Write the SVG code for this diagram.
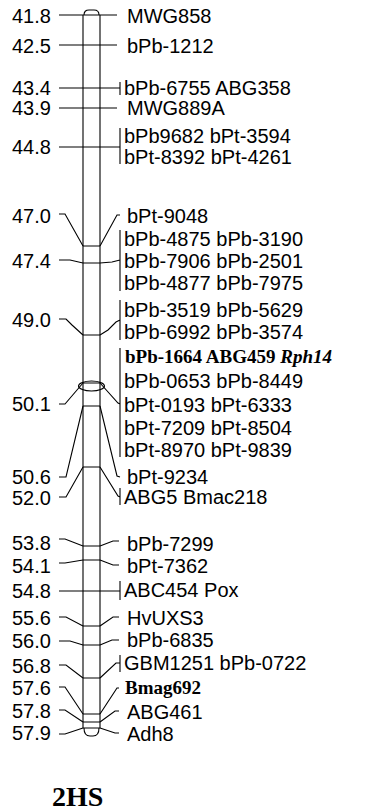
<svg xmlns="http://www.w3.org/2000/svg" width="366" height="812" viewBox="0 0 366 812">
<style>
.ln{fill:none;stroke:#000;stroke-width:1.1}
.t{font-family:"Liberation Sans",Arial,sans-serif;font-size:20px;fill:#000}
.b{font-family:"Liberation Serif","Times New Roman",serif;font-size:19px;font-weight:bold;fill:#000}
.ttl{font-family:"Liberation Serif","Times New Roman",serif;font-size:28px;font-weight:bold;fill:#000}
</style>
<rect width="366" height="812" fill="#fff"/>
<g id="chromosome" class="ln">
<path d="M83,15 V728 M100,15 V728"/>
<path d="M84,15 Q84,10 89,10 H94 Q99,10 99,15"/>
<path d="M84,728 Q84,736 90,736 H93 Q99,736 99,728"/>
<path d="M83,246 H100 M83,263 H100 M83,335 H100 M83,383 H100 M83,406 H100 M83,467 H100 M83,546 H100 M83,560 H100 M83,626 H100 M83,645 H100 M83,678 H100 M83,714 H100 M83,722 H100 M83,728 H100"/>
<ellipse cx="91.5" cy="386" rx="13" ry="5"/>
</g>
<g id="connectors" class="ln">
<path d="M59,15 H117"/>
<path d="M59,45 H117"/>
<path d="M59,88 H120 M120,82 V95"/>
<path d="M59,108 H117"/>
<path d="M59,147 H120 M120,128 V164"/>
<path d="M59,214 H65 L83,246 M100,246 L117,215 H120"/>
<path d="M59,260 H70 L83,263 M100,263 L112,262 L120,260 M120,230 V291"/>
<path d="M59,319 H66 L72,325 L83,335 M100,335 L108,330 L116,322 L120,320 M120,300 V340"/>
<path d="M59,404 H65 L83,383 M100,383 L118,403 L120,404 M120,348 V457"/>
<path d="M59,477 H66 L83,406 M100,406 L117,476 L120,477"/>
<path d="M59,497 H66 L83,467 M100,467 L118,496 L120,497 M120,488 V505"/>
<path d="M59,539 H65 L83,546 M100,546 L113,541 H119"/>
<path d="M59,563 H65 L83,560 M100,560 L113,565 H119"/>
<path d="M59,591 H120 M120,581 V600"/>
<path d="M59,617 H66 L83,626 M100,626 L113,617 H119"/>
<path d="M59,641 H70 L83,645 M100,645 L112,640 H119"/>
<path d="M59,665 H66 L83,678 M100,678 L116,663 L120,663 M120,655 V672"/>
<path d="M59,687 H65 L83,714 M100,714 L117,688 H119"/>
<path d="M59,710 H65 L83,722 M100,722 L115,711 H119"/>
<path d="M59,734 H65 L83,728 M100,728 L115,733 H119"/>
</g>
<g id="left-labels" class="t">
<text x="12" y="23">41.8</text>
<text x="12" y="53">42.5</text>
<text x="12" y="95">43.4</text>
<text x="12" y="115">43.9</text>
<text x="12" y="154">44.8</text>
<text x="12" y="223">47.0</text>
<text x="12" y="268">47.4</text>
<text x="12" y="327">49.0</text>
<text x="12" y="411">50.1</text>
<text x="12" y="484">50.6</text>
<text x="12" y="505">52.0</text>
<text x="12" y="550">53.8</text>
<text x="12" y="573">54.1</text>
<text x="12" y="598">54.8</text>
<text x="12" y="625">55.6</text>
<text x="12" y="648">56.0</text>
<text x="12" y="673">56.8</text>
<text x="12" y="695">57.6</text>
<text x="12" y="718">57.8</text>
<text x="12" y="740">57.9</text>
</g>
<g id="right-labels" class="t">
<text x="127" y="23">MWG858</text>
<text x="127" y="53">bPb-1212</text>
<text x="124" y="95">bPb-6755 ABG358</text>
<text x="127" y="115">MWG889A</text>
<text x="124" y="143">bPb9682 bPt-3594</text>
<text x="124" y="164">bPt-8392 bPt-4261</text>
<text x="127" y="223">bPt-9048</text>
<text x="124" y="246">bPb-4875 bPb-3190</text>
<text x="124" y="268">bPb-7906 bPb-2501</text>
<text x="124" y="290">bPb-4877 bPb-7975</text>
<text x="124" y="317">bPb-3519 bPb-5629</text>
<text x="124" y="339">bPb-6992 bPb-3574</text>
<text x="124" y="388">bPb-0653 bPb-8449</text>
<text x="124" y="412">bPt-0193 bPt-6333</text>
<text x="124" y="435">bPt-7209 bPt-8504</text>
<text x="124" y="457">bPt-8970 bPt-9839</text>
<text x="127" y="484">bPt-9234</text>
<text x="124" y="504">ABG5 Bmac218</text>
<text x="127" y="551">bPb-7299</text>
<text x="127" y="573">bPt-7362</text>
<text x="124" y="597">ABC454 Pox</text>
<text x="127" y="625">HvUXS3</text>
<text x="127" y="647">bPb-6835</text>
<text x="124" y="670">GBM1251 bPb-0722</text>
<text x="127" y="719">ABG461</text>
<text x="127" y="741">Adh8</text>
</g>
<g id="bold-labels" class="b">
<text x="125" y="363">bPb-1664 ABG459 <tspan font-style="italic">Rph14</tspan></text>
<text x="125" y="694">Bmag692</text>
</g>
<text id="title" class="ttl" x="52" y="806">2HS</text>
</svg>
